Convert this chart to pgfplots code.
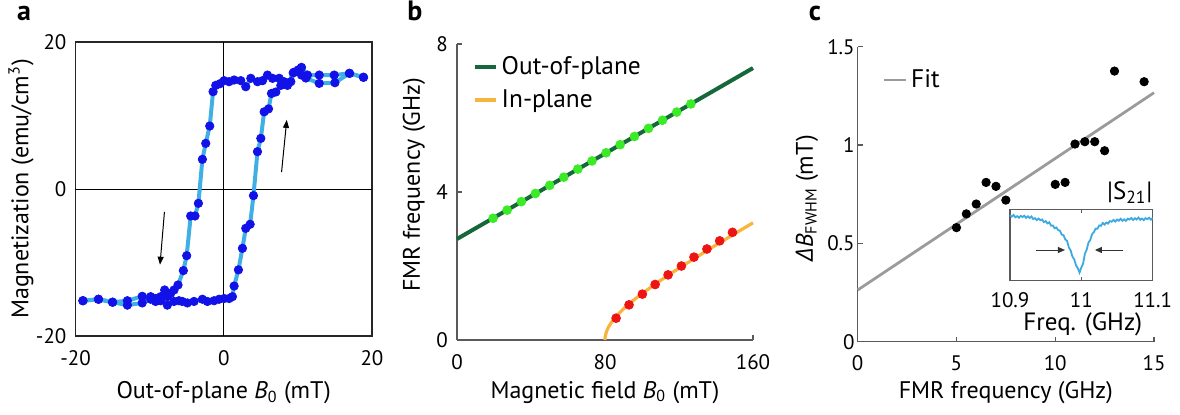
\documentclass[border=0pt]{standalone}
\usepackage{fontspec}
\setmainfont{PT Sans}
\newfontfamily\greekfont{Open Sans}
\usepackage{pgfplots}
\usepackage{pgfplotstable}
\pgfplotsset{compat=1.18}
\usetikzlibrary{arrows.meta}

\definecolor{lblue}{RGB}{64,176,228}
\definecolor{dblue}{RGB}{18,18,232}
\definecolor{dgreen}{RGB}{22,104,58}
\definecolor{lgreen}{RGB}{60,235,40}
\definecolor{orng}{RGB}{248,180,60}
\definecolor{rred}{RGB}{238,20,20}
\definecolor{fitgray}{RGB}{155,155,155}
\definecolor{axgray}{RGB}{90,90,90}
\definecolor{sblue}{RGB}{60,170,225}

\pgfplotstableread{
x y
18.85 15.2
16.96 15.74
14.9 15.5
12.88 15.5
11.3 15.5
10.49 16.55
10.04 16.2
9.5 15.9
9.05 14.6
8.15 14.6
7.48 15.06
6.58 15.06
5.9 15.5
5.23 14.74
4.55 14.6
3.65 15.06
2.97 13.92
2.3 14.74
1.4 14.83
0.72 14.6
0.05 14.74
-0.5 14.33
-1.08 14.1
-1.44 13.24
-1.89 8.57
-2.43 6.21
-2.88 4.04
-3.42 -1.95
-3.88 -3.67
-4.46 -3.67
-5.0 -9.07
-5.45 -11.1
-6.17 -13.06
-6.71 -13.74
-7.16 -14.2
-7.61 -14.65
-7.97 -13.74
-8.51 -14.65
-9.19 -14.9
-9.86 -14.65
-11.0 -14.6
-13.0 -15.2
-15.0 -15.4
-16.9 -15.0
-19.0 -15.2
}\descdata

\pgfplotstableread{
x y
-19.0 -15.2
-16.9 -15.0
-15.0 -15.4
-13.0 -15.8
-11.0 -15.5
-9.86 -15.0
-9.19 -15.3
-8.51 -15.2
-7.61 -15.8
-6.71 -15.3
-6.04 -15.2
-5.59 -15.3
-4.91 -15.5
-4.01 -15.3
-2.88 -15.0
-2.21 -15.3
-1.31 -15.2
-0.63 -15.0
0.05 -14.9
0.72 -14.9
1.17 -14.65
1.4 -13.2
1.98 -11.0
2.52 -8.07
2.97 -5.35
3.56 -4.8
4.01 -0.9
4.55 5.08
5.0 6.89
5.45 10.5
6.04 10.9
6.44 13.0
7.03 13.2
7.7 14.1
8.6 14.1
9.37 15.8
10.49 15.5
11.08 15.1
12.88 14.37
15.0 14.46
16.96 15.74
18.85 15.2
}\ascdata

\pgfplotstableread{
x y
19.5 3.29
27.1 3.51
34.8 3.74
42.4 3.96
50.1 4.18
57.7 4.40
65.3 4.62
73.0 4.84
80.6 5.06
88.2 5.28
95.9 5.50
103.5 5.72
111.1 5.94
118.8 6.16
126.4 6.38
}\oopdots

\pgfplotstableread{
x y
86.0 0.59
93.0 0.95
100.2 1.24
107.1 1.50
114.1 1.76
121.3 2.00
128.1 2.24
135.1 2.46
142.0 2.68
148.9 2.91
}\ipdots

\pgfplotstableread{
x y
80.0 0.0
80.02 0.035
80.1 0.079
80.5 0.178
81 0.252
82 0.359
84 0.513
86 0.636
90 0.84
95 1.057
100 1.252
110 1.609
120 1.940
130 2.257
140 2.566
150 2.869
160 3.168
}\ipline

\pgfplotstableread{
x y
5.0 0.58
5.5 0.65
6.0 0.70
6.5 0.81
7.0 0.79
7.5 0.72
10.0 0.80
10.5 0.81
11.0 1.005
11.5 1.017
12.0 1.017
12.5 0.971
13.0 1.376
14.5 1.322
}\lwdata

\pgfplotstableread{
x y
10.9000 0.917
10.9025 0.897
10.9050 0.921
10.9075 0.888
10.9100 0.904
10.9125 0.881
10.9150 0.908
10.9175 0.892
10.9200 0.910
10.9225 0.880
10.9250 0.902
10.9275 0.878
10.9300 0.900
10.9325 0.863
10.9350 0.876
10.9375 0.848
10.9400 0.870
10.9425 0.847
10.9450 0.858
10.9475 0.820
10.9500 0.834
10.9525 0.803
10.9550 0.818
10.9575 0.771
10.9600 0.774
10.9625 0.734
10.9650 0.745
10.9675 0.708
10.9700 0.700
10.9725 0.646
10.9750 0.637
10.9775 0.577
10.9800 0.558
10.9825 0.466
10.9850 0.424
10.9875 0.337
10.9900 0.300
10.9925 0.216
10.9950 0.176
10.9975 0.113
11.0000 0.187
11.0025 0.242
11.0050 0.378
11.0075 0.436
11.0100 0.534
11.0125 0.572
11.0150 0.650
11.0175 0.679
11.0200 0.731
11.0225 0.728
11.0250 0.774
11.0275 0.769
11.0300 0.808
11.0325 0.786
11.0350 0.814
11.0375 0.800
11.0400 0.835
11.0425 0.826
11.0450 0.851
11.0475 0.828
11.0500 0.857
11.0525 0.840
11.0550 0.868
11.0575 0.839
11.0600 0.859
11.0625 0.839
11.0650 0.868
11.0675 0.856
11.0700 0.878
11.0725 0.851
11.0750 0.876
11.0775 0.857
11.0800 0.884
11.0825 0.852
11.0850 0.870
11.0875 0.848
11.0900 0.876
11.0925 0.862
11.0950 0.882
11.0975 0.854
11.1000 0.878
}\sdata

\pgfplotsset{
  every axis/.append style={
    scale only axis,
    tick label style={font=\fontsize{10.5}{12}\selectfont},
    label style={font=\fontsize{12}{14}\selectfont},
    /pgf/number format/assume math mode=true,
  },
}

\begin{document}
\begin{tikzpicture}
\path[use as bounding box] (0,0) rectangle (590pt,207pt);

% panel letters
\node[font=\fontsize{14}{16}\selectfont\bfseries, anchor=base] at (12pt,197pt) {a};
\node[font=\fontsize{14}{16}\selectfont\bfseries, anchor=base] at (207.5pt,197pt) {b};
\node[font=\fontsize{14}{16}\selectfont\bfseries, anchor=base] at (407.5pt,197pt) {c};

% ---------------- panel a
\begin{axis}[
  at={(37.75pt,39pt)}, anchor=south west,
  width=148.25pt, height=147pt,
  xmin=-20, xmax=20, ymin=-20, ymax=20,
  xtick={-20,0,20}, ytick={-20,0,20},
  major tick length=0pt,
  axis line style={draw=black!85, line width=0.6pt},
  xticklabel style={yshift=-3.8pt},
  yticklabel shift=1pt,
  clip=false,
  xlabel={Out-of-plane \textit{B}\textsubscript{0} (mT)},
  ylabel={Magnetization (emu/cm\textsuperscript{3})},
  xlabel style={at={(axis description cs:0.5,-0.194)}, anchor=center},
  ylabel style={at={(axis description cs:-0.184,0.5)}, anchor=center},
]
\draw[black, line width=0.5pt] (axis cs:0,-20) -- (axis cs:0,20);
\draw[black, line width=0.5pt] (axis cs:-20,0) -- (axis cs:20,0);
\addplot[lblue, line width=2pt, no marks] table {\descdata};
\addplot[lblue, line width=2pt, no marks] table {\ascdata};
\addplot[only marks, mark=*, mark size=2.1pt, dblue, mark options={draw=dblue, fill=dblue}] table {\descdata};
\addplot[only marks, mark=*, mark size=2.1pt, dblue, mark options={draw=dblue, fill=dblue}] table {\ascdata};
\draw[-{Triangle[length=4pt,width=3pt]}, black, line width=0.5pt] (axis cs:-8,-3.1) -- (axis cs:-8.6,-10.3);
\draw[-{Triangle[length=4pt,width=3pt]}, black, line width=0.5pt] (axis cs:7.8,2.3) -- (axis cs:8.5,9.4);
\end{axis}

% ---------------- panel b
\begin{axis}[
  at={(228.5pt,37pt)}, anchor=south west,
  width=148pt, height=148pt,
  xmin=0, xmax=160, ymin=0, ymax=8,
  xtick={0,80,160}, ytick={0,4,8},
  axis lines*=left,
  axis line style={-, draw=axgray, line width=0.7pt},
  tick align=inside, major tick length=2.5pt,
  tick style={axgray, line width=0.6pt},
  xticklabel style={yshift=-3.8pt},
  yticklabel shift=1pt,
  clip=false,
  xlabel={Magnetic field \textit{B}\textsubscript{0} (mT)},
  ylabel={FMR frequency (GHz)},
  xlabel style={at={(axis description cs:0.5,-0.176)}, anchor=center},
  ylabel style={at={(axis description cs:-0.145,0.524)}, anchor=center},
  legend style={draw=none, fill=none, at={(axis description cs:0.045,0.98)}, anchor=north west,
    font=\fontsize{12.7}{14}\selectfont, row sep=2.3pt, inner sep=1pt},
  legend cell align=left,
  legend image code/.code={\draw[#1, line width=2pt] (0pt,0pt) -- (10.5pt,0pt);},
]
\addplot[dgreen, line width=2pt, no marks] coordinates {(0,2.73) (160,7.35)};
\addlegendentry{Out-of-plane}
\addplot[orng, line width=1.6pt, no marks, smooth] table {\ipline};
\addlegendentry{In-plane}
\addplot[only marks, mark=*, mark size=2.2pt, mark options={draw=lgreen, fill=lgreen}, forget plot] table {\oopdots};
\addplot[only marks, mark=*, mark size=2.2pt, mark options={draw=rred, fill=rred}, forget plot] table {\ipdots};
\end{axis}

% ---------------- panel c
\begin{axis}[
  at={(428.85pt,36.15pt)}, anchor=south west,
  width=148.15pt, height=147.5pt,
  xmin=0, xmax=15, ymin=0, ymax=1.5,
  xtick={0,5,10,15}, ytick={0,0.5,1,1.5},
  yticklabels={0,0.5,1,1.5},
  axis lines*=left,
  axis line style={-, draw=axgray, line width=0.7pt},
  tick align=inside, major tick length=2.5pt,
  tick style={axgray, line width=0.6pt},
  xticklabel style={yshift=-3.5pt},
  yticklabel shift=-2pt,
  clip=false,
  xlabel={FMR frequency (GHz)},
  ylabel={{\greekfont\itshape Δ}\textit{B}\textsubscript{FWHM} (mT)},
  xlabel style={at={(axis description cs:0.5,-0.174)}, anchor=center},
  ylabel style={at={(axis description cs:-0.171,0.487)}, anchor=center},
  legend style={draw=none, fill=none, at={(axis description cs:0.075,0.887)}, anchor=west,
    font=\fontsize{12.7}{14}\selectfont, inner sep=1pt},
  legend image code/.code={\draw[#1] (0pt,0pt) -- (11pt,0pt);},
]
\addplot[fitgray, line width=1.4pt, no marks] coordinates {(0,0.263) (15,1.266)};
\addlegendentry{Fit}
\addplot[only marks, mark=*, mark size=2.1pt, mark options={draw=black, fill=black}, forget plot] table {\lwdata};
\end{axis}

% ---------------- inset
\begin{axis}[
  at={(505pt,66.65pt)}, anchor=south west,
  width=71.35pt, height=35.7pt,
  xmin=10.9, xmax=11.1, ymin=0, ymax=1,
  xtick={10.9,11,11.1}, ytick=\empty,
  tick align=inside, major tick length=2pt,
  tick style={axgray, line width=0.6pt},
  axis line style={draw=axgray, line width=0.7pt},
  axis background/.style={fill=white},
  clip=false,
  xticklabel style={yshift=-2.6pt, /pgf/number format/fixed},
  xlabel={Freq. (GHz)},
  xlabel style={at={(axis description cs:0.51,-0.61)}, anchor=center, font=\fontsize{12.5}{14}\selectfont},
]
\addplot[sblue, line width=0.9pt, no marks] table {\sdata};
\draw[-{Triangle[length=3.5pt,width=3pt]}, black!80, line width=0.5pt] (axis cs:10.937,0.43) -- (axis cs:10.977,0.43);
\draw[-{Triangle[length=3.5pt,width=3pt]}, black!80, line width=0.5pt] (axis cs:11.059,0.43) -- (axis cs:11.019,0.43);
\node[anchor=base east, inner sep=0pt, font=\fontsize{12.5}{14}\selectfont] at (rel axis cs:1.0,1) [yshift=5pt] {|S\textsubscript{21}|};
\end{axis}
\end{tikzpicture}
\end{document}
